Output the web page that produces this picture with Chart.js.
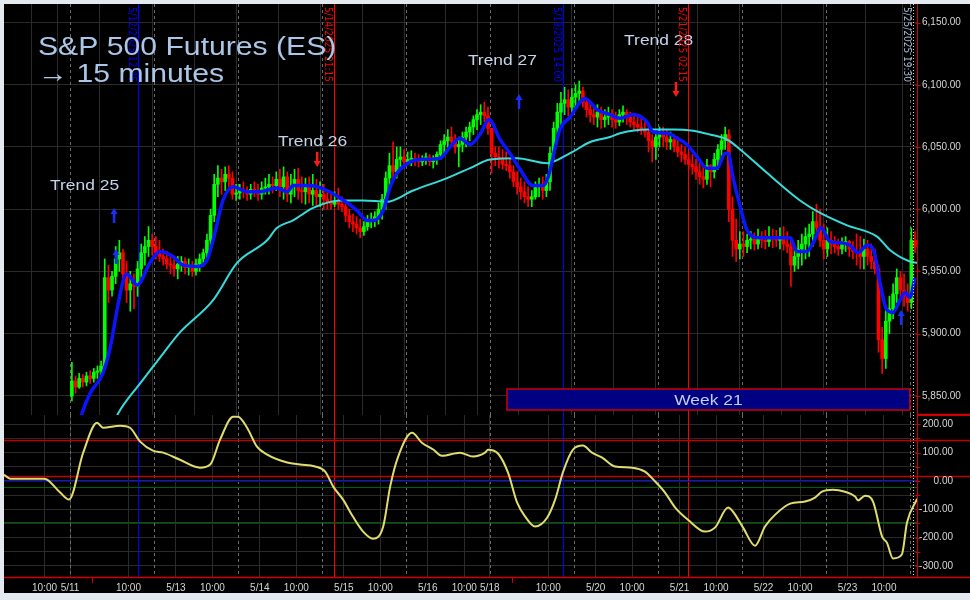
<!DOCTYPE html>
<html>
<head>
<meta charset="utf-8">
<title>S&amp;P 500 Futures (ES) - 15 minutes</title>
<script src="https://cdn.jsdelivr.net/npm/chart.js@4.4.1/dist/chart.umd.min.js"></script>
<style>
  html, body { margin: 0; padding: 0; background: #e4e9ef; }
  #frame { position: absolute; left: 4px; top: 4px; width: 966px; height: 589px; background: #000; }
  #priceChart { position: absolute; left: 0; top: 0; }
  #oscChart { position: absolute; left: 0; top: 411px; }
</style>
</head>
<body>
<div id="frame">
  <canvas id="priceChart" width="966" height="411"></canvas>
  <canvas id="oscChart" width="966" height="178"></canvas>
</div>
<script>
// x unit = trading hours counted from the 5/11 18:00 session open
const X_MIN = -18.1, X_MAX = 232.05;

// hourly bars (bar i covers hour i .. i+1)
const barHigh = [5877,5866,5868,5867,5869,5870,5872,5874,5878,5960,5955,5950,5970,5975,5968,5958,5950,5948,5958,5972,
  5978,5986,5980,5978,5975,5968,5966,5962,5960,5962,5962,5961,5960,5958,5960,5964,5968,5980,6000,6028,
  6035,6032,6034,6035,6030,6020,6020,6022,6018,6020,6022,6020,6022,6025,6028,6026,6030,6032,6034,6030,
  6028,6032,6033,6026,6025,6026,6028,6024,6022,6020,6015,6012,6014,6017,6010,6004,6000,5996,5994,5992,
  5990,5995,5997,5998,6005,6012,6030,6045,6054,6050,6050,6048,6046,6047,6045,6044,6043,6045,6044,6043,
  6046,6055,6060,6064,6066,6060,6058,6062,6066,6070,6075,6080,6084,6086,6082,6060,6050,6050,6048,6046,
  6040,6035,6030,6025,6022,6018,6015,6022,6025,6026,6028,6050,6070,6085,6094,6098,6096,6097,6100,6103,
  6098,6088,6085,6082,6084,6082,6080,6082,6080,6078,6080,6083,6080,6078,6076,6076,6074,6072,6068,6060,
  6062,6066,6066,6064,6062,6060,6058,6052,6050,6046,6044,6040,6038,6035,6040,6036,6045,6052,6060,6066,
  6064,6010,5992,5982,5982,5980,5982,5981,5984,5982,5983,5986,5984,5983,5985,5986,5982,5976,5970,5975,
  5980,5985,5988,5998,6004,6000,5988,5985,5982,5978,5976,5977,5978,5975,5974,5980,5978,5976,5975,5972,
  5968,5955,5905,5920,5930,5940,5952,5950,5948,5940,5985,5982];
const barLow = [5846,5852,5856,5857,5858,5860,5861,5864,5866,5872,5925,5930,5940,5950,5940,5925,5918,5920,5930,5945,
  5955,5962,5963,5960,5958,5955,5952,5948,5946,5944,5950,5948,5947,5946,5947,5950,5954,5960,5970,5990,
  6010,6012,6015,6018,6008,6007,6008,6009,6007,6008,6010,6007,6008,6012,6012,6013,6015,6010,6008,6006,
  6005,6010,6008,6005,6004,6005,6003,6002,6002,6000,6000,6000,6002,6000,5998,5990,5985,5982,5980,5977,
  5979,5983,5985,5986,5988,5992,6000,6015,6022,6025,6034,6033,6036,6035,6035,6034,6035,6036,6035,6033,
  6036,6040,6045,6048,6050,6045,6034,6046,6050,6055,6060,6064,6068,6070,6060,6029,6035,6033,6032,6031,
  6025,6018,6012,6008,6005,6002,6002,6008,6010,6008,6010,6015,6040,6060,6068,6076,6075,6078,6080,6085,
  6082,6074,6070,6068,6066,6065,6066,6068,6066,6065,6067,6070,6068,6066,6064,6062,6060,6058,6046,6038,
  6040,6050,6050,6048,6048,6046,6042,6038,6036,6032,6028,6024,6020,6017,6020,6018,6025,6032,6040,6048,
  5990,5962,5958,5960,5962,5965,5968,5967,5968,5969,5968,5970,5969,5970,5968,5967,5965,5938,5950,5952,
  5955,5960,5962,5970,5978,5970,5960,5962,5964,5965,5963,5964,5966,5962,5960,5955,5952,5952,5955,5952,
  5948,5885,5868,5872,5900,5912,5925,5928,5922,5918,5920,5965];
const barClose = [5862,5857,5864,5861,5866,5864,5869,5870,5874,5945,5935,5946,5960,5965,5948,5935,5940,5938,5952,5965,
  5970,5975,5970,5965,5962,5960,5956,5955,5952,5956,5958,5953,5955,5950,5956,5960,5965,5975,5995,6020,
  6025,6022,6028,6025,6012,6013,6015,6014,6012,6016,6014,6012,6017,6018,6020,6019,6024,6018,6026,6012,
  6018,6024,6015,6014,6018,6012,6015,6010,6012,6008,6006,6004,6006,6004,6002,5995,5990,5988,5985,5982,
  5986,5990,5992,5994,6000,6008,6025,6035,6030,6040,6042,6038,6040,6041,6039,6038,6040,6042,6038,6041,
  6044,6052,6055,6058,6054,6050,6052,6058,6062,6066,6072,6076,6078,6075,6065,6045,6042,6040,6036,6035,
  6030,6022,6018,6014,6010,6008,6010,6018,6020,6015,6022,6045,6065,6078,6085,6088,6082,6090,6093,6095,
  6086,6080,6076,6074,6078,6072,6074,6076,6072,6070,6076,6078,6074,6070,6068,6066,6064,6062,6055,6050,
  6058,6060,6058,6054,6056,6050,6046,6044,6040,6036,6034,6030,6026,6024,6035,6030,6040,6048,6055,6060,
  6000,5975,5968,5972,5970,5975,5976,5972,5978,5975,5974,5978,5976,5975,5977,5972,5970,5955,5962,5968,
  5972,5978,5980,5990,5985,5975,5968,5975,5972,5970,5968,5972,5974,5968,5966,5965,5962,5968,5962,5958,
  5952,5895,5880,5910,5920,5932,5945,5935,5930,5925,5975,5970];
const firstOpen = 5850;

// fast (blue) and slow (cyan) averages
const fastT = [2.5,3.3,5.5,9.0,11.0,13.0,14.6,15.6,18.4,21.9,24.7,28.2,31.0,34.8,37.5,39.2,41.9,44.7,48.5,52.1,
  56.7,59.5,61.1,64.9,67.7,70.4,74.0,78.6,81.4,83.0,85.8,87.7,89.6,93.2,95.9,101.4,104.1,106.8,109.6,112.3,
  114.8,117.8,120.5,123.3,126.8,129.6,131.0,134.2,137.0,141.1,144.4,147.9,150.7,154.2,158.1,159.7,163.6,166.3,169.0,171.8,
  174.5,177.3,179.5,180.3,181.6,183.6,185.5,189.0,197.3,199.2,201.9,203.6,205.8,208.2,211.0,213.7,215.9,218.4,220.3,221.9,
  223.8,225.5,227.4,228.8,230.1,231.5];
const fastP = [5826,5836,5852,5868,5889,5921,5943,5948,5939,5957,5966,5962,5955,5954,5959,5975,6007,6018,6014,6014,
  6017,6014,6019,6019,6018,6015,6009,5999,5991,5991,5999,6018,6029,6038,6040,6041,6050,6057,6052,6060,
  6072,6056,6045,6032,6019,6019,6026,6064,6074,6089,6080,6076,6073,6076,6070,6062,6061,6057,6052,6042,
  6033,6033,6045,6045,6026,6002,5983,5977,5977,5966,5966,5973,5985,5974,5973,5971,5965,5971,5966,5941,
  5919,5917,5927,5933,5929,5945];
const slowT = [12.3,13.2,19.2,24.7,30.1,39.2,45.8,54.0,56.7,61.1,66.6,74.0,80.3,86.8,94.0,103.3,109.6,115.1,122.5,130.7,
  137.0,142.5,147.9,150.7,158.1,165.2,170.7,175.3,180.0,183.6,191.0,200.0,205.5,212.9,221.1,224.7,230.1,232.1];
const slowP = [5830,5836,5860,5881,5901,5927,5957,5975,5985,5991,6001,6007,6007,6006,6015,6025,6033,6040,6041,6037,
  6045,6054,6058,6061,6064,6064,6063,6060,6056,6048,6029,6007,5997,5987,5978,5967,5958,5957];

// oscillator (lower panel)
const oscT = [-18.1,-16.4,-7.4,-6.3,-2.7,-0.3,3.6,7.4,9.0,13.7,16.4,19.2,22.7,25.5,30.1,35.6,38.4,41.1,44.7,46.0,
  48.5,51.2,54.0,59.5,63.0,67.1,69.9,72.1,74.8,77.5,80.3,83.0,85.8,87.7,89.9,93.7,96.4,99.5,101.9,106.8,
  110.4,113.7,114.5,117.3,120.0,122.5,124.7,127.4,130.7,132.9,135.1,137.8,140.5,143.0,145.8,149.3,154.0,157.5,160.3,163.0,
  165.8,169.3,174.0,176.7,180.3,181.6,184.4,187.7,190.4,193.2,197.3,201.4,204.1,206.0,209.0,212.3,215.1,215.9,217.8,220.0,
  222.5,223.8,225.5,227.9,229.3,232.1];
const oscV = [22,8,8,5,-41,-66,100,206,188,195,188,139,107,100,75,47,58,146,227,227,
  188,121,93,65,58,51,33,-20,-66,-126,-179,-204,-161,-20,86,170,135,111,89,100,
  86,100,110,96,29,-77,-126,-161,-130,-66,33,111,125,100,82,51,47,33,-2,-41,
  -94,-137,-179,-165,-94,-108,-165,-229,-161,-119,-80,-73,-59,-38,-31,-38,-55,-69,-52,-73,
  -197,-218,-274,-260,-148,-63];
const oscLevel = [143, 19, 0, -23, -144];
const oscLevelColor = ['#c00000', '#c00000', '#0000d8', '#006000', '#006000'];

// axes
const priceTicks = [6150, 6100, 6050, 6000, 5950, 5900, 5850];
const oscTicks = [200, 150, 100, 50, 0, -50, -100, -150, -200, -250, -300];
const oscLabelTicks = [200, 100, 0, -100, -200, -300];
const xTickT = [-7, 0, 16, 29, 39, 52, 62, 75, 85, 98, 108, 115, 131, 144, 154, 167, 177, 190, 200, 213, 223];
const xTickLabels = ['10:00','5/11','10:00','5/13','10:00','5/14','10:00','5/15','10:00','5/16','10:00',
  '5/18','10:00','5/20','10:00','5/21','10:00','5/22','10:00','5/23','10:00'];
const sessionT = [0, 23, 46, 69, 92, 115, 138, 161, 184, 207, 230];
const unlabeledMidnightT = [6, 121];

// annotations
const markerT = [18.75, 72.25, 135, 169.25];
const markerText = ['5/12/2025 12:45', '5/14/2025 21:15', '5/19/2025 14:00', '5/21/2025 02:15'];
const markerColor = ['#0000ff', '#ff0000', '#0000ff', '#ff0000'];
const endMarkerT = 230.9;
const endMarkerText = '5/25/2025 19:30';
const arrowT = [12.05, 12.6, 67.7, 123.0, 166.0, 227.7];
const arrowP = [6001, 5968, 6034, 6092.6, 6090.2, 5919];
const arrowDir = [1, 1, -1, 1, -1, 1];
const trendText = ['Trend 25', 'Trend 26', 'Trend 27', 'Trend 28'];
const trendT = [-5.48, 56.99, 109.0, 151.8];
const trendP = [6015.4, 6050.8, 6115.9, 6132.0];
const weekBox = { t0: 119.7, t1: 230.1, pTop: 5855.5, pBottom: 5838.6, text: 'Week 21' };

const UP = '#00ff00', DOWN = '#ff0000';
const GRID = '#2a2a2a';
const AXIS_RED = '#d00000';
const LABEL = '#d6d6d6';
const TEXT_STRETCH = 1.16;

Chart.defaults.font.family = '"Liberation Sans", Arial, sans-serif';
Chart.defaults.font.size = 10;

const barOpen = barClose.map((c, i) => i === 0 ? firstOpen : barClose[i - 1]);
const barColor = i => barClose[i] >= barOpen[i] ? UP : DOWN;
const fmt = v => v.toLocaleString('en-US', { minimumFractionDigits: 2, maximumFractionDigits: 2 });

// keep the plot area flush with the canvas edges (no label overhang padding)
const noPad = s => { s.paddingTop = 0; s.paddingBottom = 0; s.paddingLeft = 0; s.paddingRight = 0; };

function drawVerticals(chart) {
    const { ctx, chartArea: a, scales: { x } } = chart;
    ctx.save();
    // session opens
    ctx.strokeStyle = '#6c6c6c';
    ctx.lineWidth = 1;
    ctx.setLineDash([3, 3]);
    sessionT.forEach(t => {
        const px = Math.round(x.getPixelForValue(t)) + 0.5;
        ctx.beginPath(); ctx.moveTo(px, a.top); ctx.lineTo(px, a.bottom); ctx.stroke();
    });
    // event markers
    ctx.setLineDash([]);
    markerT.forEach((t, i) => {
        const px = Math.round(x.getPixelForValue(t)) + 0.5;
        ctx.strokeStyle = markerColor[i];
        ctx.beginPath(); ctx.moveTo(px, a.top); ctx.lineTo(px, a.bottom); ctx.stroke();
    });
    ctx.restore();
}

function drawEndMarkerAndAxis(chart, ticks, bottomLine) {
    const { ctx, chartArea: a, scales: { x, y } } = chart;
    ctx.save();
    const ex = Math.round(x.getPixelForValue(endMarkerT)) + 0.5;
    ctx.strokeStyle = '#d8d8d8';
    ctx.setLineDash([1, 2]);
    ctx.beginPath(); ctx.moveTo(ex, a.top); ctx.lineTo(ex, a.bottom); ctx.stroke();
    ctx.setLineDash([]);
    ctx.strokeStyle = AXIS_RED;
    ctx.lineWidth = 1;
    const rx = Math.round(a.right) + 0.5;
    ctx.beginPath(); ctx.moveTo(rx, a.top); ctx.lineTo(rx, a.bottom); ctx.stroke();
    ticks.forEach(v => {
        const py = Math.round(y.getPixelForValue(v)) + 0.5;
        ctx.beginPath(); ctx.moveTo(rx - 2, py); ctx.lineTo(rx + 3, py); ctx.stroke();
    });
    const by = Math.round(a.bottom) - 0.5;
    ctx.lineWidth = 1.5;
    ctx.beginPath(); ctx.moveTo(bottomLine ? 0 : a.right, by); ctx.lineTo(chart.width, by); ctx.stroke();
    ctx.restore();
}

function stretchedText(ctx, text, px, py) {
    ctx.save();
    ctx.translate(px, py);
    ctx.scale(TEXT_STRETCH, 1);
    ctx.fillText(text, 0, 0);
    ctx.restore();
}

function drawArrow(ctx, px, tipY, dir, color) {
    const len = 15, head = 6;
    ctx.save();
    ctx.strokeStyle = color;
    ctx.fillStyle = color;
    ctx.lineWidth = 2.5;
    ctx.beginPath();
    ctx.moveTo(px, tipY + dir * len);
    ctx.lineTo(px, tipY + dir * (head - 1));
    ctx.stroke();
    ctx.beginPath();
    ctx.moveTo(px, tipY);
    ctx.lineTo(px - 3.5, tipY + dir * head);
    ctx.lineTo(px + 3.5, tipY + dir * head);
    ctx.closePath();
    ctx.fill();
    ctx.restore();
}

const priceDecor = {
    id: 'priceDecor',
    beforeDatasetsDraw(chart) {
        drawVerticals(chart);
    },
    afterDraw(chart) {
        const { ctx, scales: { x, y } } = chart;
        drawEndMarkerAndAxis(chart, priceTicks, false);

        // week box
        const bx0 = x.getPixelForValue(weekBox.t0), bx1 = x.getPixelForValue(weekBox.t1);
        const by0 = y.getPixelForValue(weekBox.pTop), by1 = y.getPixelForValue(weekBox.pBottom);
        ctx.save();
        ctx.fillStyle = '#000082';
        ctx.fillRect(bx0, by0, bx1 - bx0, by1 - by0);
        ctx.strokeStyle = '#cc0000';
        ctx.lineWidth = 1.5;
        ctx.strokeRect(bx0, by0, bx1 - bx0, by1 - by0);
        ctx.font = '15px "Liberation Sans", Arial, sans-serif';
        ctx.fillStyle = '#c2d0ee';
        ctx.textBaseline = 'alphabetic';
        const ww = ctx.measureText(weekBox.text).width * TEXT_STRETCH;
        stretchedText(ctx, weekBox.text, (bx0 + bx1) / 2 - ww / 2, (by0 + by1) / 2 + 5.5);

        // signal arrows
        arrowT.forEach((t, i) => {
            drawArrow(ctx, x.getPixelForValue(t), y.getPixelForValue(arrowP[i]), arrowDir[i],
                arrowDir[i] > 0 ? '#1830ff' : '#ff1a1a');
        });

        // trend labels
        ctx.fillStyle = '#c6d4ea';
        trendText.forEach((s, i) => stretchedText(ctx, s, x.getPixelForValue(trendT[i]), y.getPixelForValue(trendP[i])));

        // rotated marker captions
        ctx.font = '10px "Liberation Sans Narrow", "DejaVu Sans Condensed", sans-serif';
        ctx.textBaseline = 'top';
        const caps = markerT.map((t, i) => [t, markerText[i], markerColor[i]]);
        caps.push([endMarkerT, endMarkerText, '#a6b6cf']);
        caps.forEach(([t, s, c]) => {
            ctx.save();
            ctx.fillStyle = c;
            ctx.translate(Math.round(x.getPixelForValue(t)) - 1, 3);
            ctx.rotate(Math.PI / 2);
            ctx.fillText(s, 0, 0);
            ctx.restore();
        });

        // title
        ctx.font = '26px "Liberation Sans", Arial, sans-serif';
        ctx.fillStyle = '#abc6e6';
        ctx.textBaseline = 'alphabetic';
        stretchedText(ctx, 'S&P 500 Futures (ES)', 34, 51);
        stretchedText(ctx, '\u2192 15 minutes', 34, 78);
        ctx.restore();
    }
};

const oscDecor = {
    id: 'oscDecor',
    beforeDatasetsDraw(chart) {
        const { ctx, chartArea: a, scales: { y } } = chart;
        drawVerticals(chart);
        ctx.save();
        oscLevel.forEach((v, i) => {
            const py = Math.round(y.getPixelForValue(v)) + 0.5;
            const red = oscLevelColor[i] === '#c00000';
            ctx.strokeStyle = oscLevelColor[i];
            ctx.lineWidth = red ? 1.5 : 1;
            ctx.beginPath(); ctx.moveTo(a.left, py); ctx.lineTo(red ? chart.width : a.right, py); ctx.stroke();
        });
        ctx.restore();
    },
    afterDraw(chart) {
        const { ctx, chartArea: a, scales: { x, y } } = chart;
        drawEndMarkerAndAxis(chart, oscTicks, true);
        ctx.save();
        ctx.strokeStyle = AXIS_RED;
        ctx.lineWidth = 1;
        ctx.beginPath(); ctx.moveTo(a.right, 0.5); ctx.lineTo(chart.width, 0.5); ctx.stroke();
        unlabeledMidnightT.forEach(t => {
            const px = Math.round(x.getPixelForValue(t)) + 0.5;
            ctx.beginPath(); ctx.moveTo(px, a.bottom); ctx.lineTo(px, a.bottom + 5); ctx.stroke();
        });
        // right-aligned value labels
        ctx.font = '10px "Liberation Sans", Arial, sans-serif';
        ctx.fillStyle = LABEL;
        ctx.textAlign = 'right';
        ctx.textBaseline = 'middle';
        oscLabelTicks.forEach(v => ctx.fillText(fmt(v), a.right + 36, y.getPixelForValue(v)));
        ctx.restore();
    }
};

const baseOptions = {
    responsive: false,
    animation: false,
    devicePixelRatio: 1,
    layout: { padding: 0 },
    plugins: { legend: { display: false }, tooltip: { enabled: false } }
};

// price panel
new Chart(document.getElementById('priceChart'), {
    type: 'bar',
    data: {
        datasets: [
            {
                type: 'line', label: 'Fast average',
                data: fastT.map((t, i) => ({ x: t, y: fastP[i] })),
                borderColor: '#0a14ff', borderWidth: 3.5, pointRadius: 0,
                cubicInterpolationMode: 'monotone', order: 1
            },
            {
                type: 'line', label: 'Slow average',
                data: slowT.map((t, i) => ({ x: t, y: slowP[i] })),
                borderColor: '#36dcdc', borderWidth: 2, pointRadius: 0,
                cubicInterpolationMode: 'monotone', order: 2
            },
            {
                label: 'Range',
                data: barClose.map((c, i) => ({ x: i + 0.5, y: [barLow[i], barHigh[i]] })),
                backgroundColor: ctx => barColor(ctx.dataIndex),
                barThickness: 1, grouped: false, order: 3
            },
            {
                label: 'Body',
                data: barClose.map((c, i) => ({ x: i + 0.5, y: [barOpen[i], c] })),
                backgroundColor: ctx => barColor(ctx.dataIndex),
                barThickness: 3, minBarLength: 1, grouped: false, order: 3
            }
        ]
    },
    options: {
        ...baseOptions,
        scales: {
            x: {
                type: 'linear', min: X_MIN, max: X_MAX, offset: false, bounds: 'data',
                afterBuildTicks: s => { s.ticks = xTickT.map(v => ({ value: v })); },
                afterFit: s => { s.height = 0; noPad(s); },
                ticks: { display: false, autoSkip: false },
                grid: { color: GRID, drawTicks: false },
                border: { display: false }
            },
            y: {
                position: 'right', min: 5834.6, max: 6164.9, bounds: 'data',
                afterBuildTicks: s => { s.ticks = priceTicks.map(v => ({ value: v })); },
                afterFit: s => { s.width = 53; noPad(s); },
                ticks: { callback: v => fmt(v), color: LABEL, padding: 5, autoSkip: false },
                grid: { color: GRID, drawTicks: false },
                border: { display: false }
            }
        }
    },
    plugins: [priceDecor]
});

// oscillator panel
new Chart(document.getElementById('oscChart'), {
    type: 'line',
    data: {
        datasets: [{
            label: 'Oscillator',
            data: oscT.map((t, i) => ({ x: t, y: oscV[i] })),
            borderColor: '#e2dc6e', borderWidth: 2, pointRadius: 0,
            cubicInterpolationMode: 'monotone'
        }]
    },
    options: {
        ...baseOptions,
        scales: {
            x: {
                type: 'linear', min: X_MIN, max: X_MAX, bounds: 'data',
                afterBuildTicks: s => { s.ticks = xTickT.map(v => ({ value: v })); },
                afterFit: s => { s.height = 15; noPad(s); },
                ticks: {
                    callback: (v, i) => xTickLabels[i], color: LABEL, padding: 4,
                    autoSkip: false, maxRotation: 0
                },
                grid: { color: GRID, drawTicks: false },
                border: { display: false }
            },
            y: {
                position: 'right', min: -343, max: 233, bounds: 'data',
                afterBuildTicks: s => { s.ticks = oscTicks.map(v => ({ value: v })); },
                afterFit: s => { s.width = 53; noPad(s); },
                ticks: { display: false, autoSkip: false },
                grid: { color: GRID, drawTicks: false },
                border: { display: false }
            }
        }
    },
    plugins: [oscDecor]
});
</script>
</body>
</html>
